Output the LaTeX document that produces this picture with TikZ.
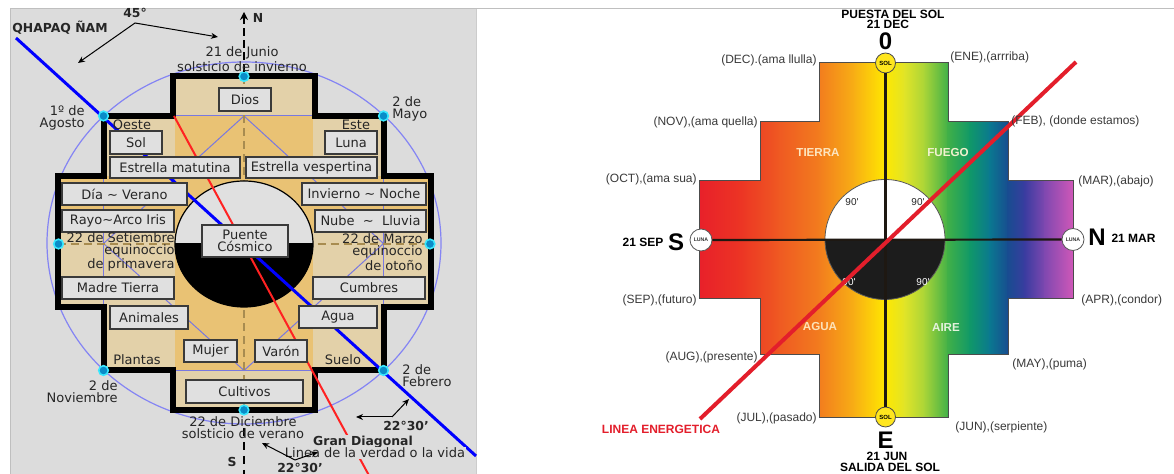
\documentclass[tikz,border=0pt]{standalone}
\usepackage{fontspec}
\setmainfont{DejaVu Sans}
\newfontfamily\arialf{Liberation Sans}
\usetikzlibrary{arrows.meta}
\definecolor{bgL}{HTML}{DCDCDC}
\definecolor{boxfill}{HTML}{E0E0E0}
\definecolor{boxline}{HTML}{3A3A3A}
\definecolor{tanL}{HTML}{E3D1A9}
\definecolor{tanD}{HTML}{E9C274}
\definecolor{purp}{HTML}{7878E0}
\definecolor{ringc}{HTML}{8484F4}
\definecolor{dashc}{HTML}{A88C50}
\definecolor{txt}{HTML}{262626}
\definecolor{redL}{HTML}{FF2222}
\definecolor{dotin}{HTML}{0A8CC8}
\definecolor{dotout}{HTML}{38E8FF}
\definecolor{monc}{HTML}{3A3A3A}
\definecolor{redR}{HTML}{E31E2B}
\definecolor{axisc}{HTML}{1E1812}
\definecolor{solc}{HTML}{FFE61E}
\definecolor{blk}{HTML}{1C1C1C}
\definecolor{g1}{HTML}{E8202A}
\definecolor{g2}{HTML}{EC3424}
\definecolor{g3}{HTML}{EF5A22}
\definecolor{g4}{HTML}{F27C1E}
\definecolor{g5}{HTML}{F8B014}
\definecolor{g6}{HTML}{FFE800}
\definecolor{g7}{HTML}{E0E428}
\definecolor{g8}{HTML}{A8D438}
\definecolor{g9}{HTML}{40B048}
\definecolor{g10}{HTML}{109868}
\definecolor{g11}{HTML}{0A7890}
\definecolor{g12}{HTML}{184C90}
\definecolor{g13}{HTML}{3A3CA0}
\definecolor{g14}{HTML}{8048B0}
\definecolor{g15}{HTML}{D058B8}
\definecolor{eT}{HTML}{FDE6C0}
\definecolor{eF}{HTML}{F2F2D0}
\definecolor{eA}{HTML}{FDE3B8}
\definecolor{eI}{HTML}{E4F2DC}
\begin{document}
\begin{tikzpicture}[x=0.5pt,y=-0.5pt,
  lbox/.style={draw=boxline, fill=boxfill, line width=0.7pt, inner sep=0pt, font=\fontsize{6.5}{6}\selectfont, text=txt, align=center},
  lab/.style={inner sep=0pt, font=\fontsize{6.5}{6}\selectfont, text=txt, align=center},
  blab/.style={inner sep=0pt, font=\bfseries\fontsize{6.2}{6}\selectfont, text=txt},
  cdot/.style={circle, fill=dotin, draw=dotout, line width=0.8pt, minimum size=4.8pt, inner sep=0pt},
  arr/.style={-{Stealth[length=3.5pt,width=3pt]}, line width=0.5pt, black},
  mon/.style={inner sep=0pt, font=\arialf\fontsize{6}{6}\selectfont, text=monc},
  rb/.style={inner sep=0pt, font=\arialf\bfseries\fontsize{6}{5.5}\selectfont, text=black},
  big/.style={inner sep=0pt, font=\arialf\bfseries\fontsize{12}{12}\selectfont, text=black},
  elem/.style={inner sep=0pt, font=\arialf\bfseries\fontsize{5.8}{6}\selectfont},
  ninety/.style={inner sep=0pt, font=\arialf\fontsize{5}{5}\selectfont},
  solnode/.style={circle, fill=solc, draw=gray!60!black, line width=0.4pt, minimum size=10pt, inner sep=0pt, font=\arialf\bfseries\fontsize{3}{3}\selectfont},
  lunanode/.style={circle, fill=white, draw=gray!70!black, line width=0.4pt, minimum size=11pt, inner sep=0pt, font=\arialf\bfseries\fontsize{2.6}{3}\selectfont, text=gray!40!black}
]
\useasboundingbox (0,0) rectangle (1174,474);
\clip (0,0) rectangle (1174,474);
\fill[white] (0,0) rectangle (1174,474);
% ---------------- LEFT PANEL ----------------
\fill[bgL] (10,9) rectangle (476,474);
\draw[gray!50, line width=0.5pt] (10,474) -- (10,9) -- (1174,9);
\draw[gray!40, line width=0.5pt] (476,9) -- (476,474);
% ring
\draw[ringc, line width=0.6pt] (244,243) ellipse [x radius=197, y radius=181];
% cross fill
\fill[tanL] (172.5,76.5) -- (315,76.5) -- (315,116) -- (383.5,116) -- (383.5,176.5) -- (431,176.5) -- (431,307.5) -- (383.5,307.5) -- (383.5,370.5) -- (315,370.5) -- (315,410) -- (172.5,410) -- (172.5,370.5) -- (103.5,370.5) -- (103.5,307.5) -- (57.5,307.5) -- (57.5,176.5) -- (103.5,176.5) -- (103.5,116) -- (172.5,116) -- cycle;
\fill[tanD] (175,116) rectangle (313,370.5);
\fill[tanD] (57.5,176.5) rectangle (431,232);
% purple geometry
\draw[purp, line width=0.5pt] (103.5,116) rectangle (383.5,370.5);
\draw[purp, line width=0.5pt] (244,116) -- (103.5,243.5) -- (244,370.5) -- (383.5,243.5) -- cycle;
% dashed axes
\draw[dashc, line width=1pt, dash pattern=on 4pt off 2.5pt] (244,76.5) -- (244,410);
\draw[dashc, line width=1pt, dash pattern=on 4pt off 2.5pt] (57.5,244) -- (431,244);
% puente ellipse
\begin{scope}
\clip (170,170) rectangle (320,244);
\fill[boxfill] (244,244) ellipse [x radius=69, y radius=63];
\end{scope}
\begin{scope}
\clip (170,244) rectangle (320,320);
\fill[black] (244,244) ellipse [x radius=69, y radius=63];
\end{scope}
\draw[black, line width=0.6pt] (244,244) ellipse [x radius=69, y radius=63];
% frame
\draw[black, line width=3pt, line join=miter] (172.5,76.5) -- (315,76.5) -- (315,116) -- (383.5,116) -- (383.5,176.5) -- (431,176.5) -- (431,307.5) -- (383.5,307.5) -- (383.5,370.5) -- (315,370.5) -- (315,410) -- (172.5,410) -- (172.5,370.5) -- (103.5,370.5) -- (103.5,307.5) -- (57.5,307.5) -- (57.5,176.5) -- (103.5,176.5) -- (103.5,116) -- (172.5,116) -- cycle;
% diagonals
\coordinate (bA) at (16,38);
\coordinate (bB) at (476,456);
\coordinate (rA) at (174,116);
\coordinate (rB) at (372,481);
\draw[redL, line width=1pt] (rA) -- (rB);
\draw[blue, line width=1.5pt] (bA) -- (bB);
% boxes
\node[lbox, minimum width=26pt, minimum height=11.5pt] (dios) at (245,99.5) {Dios};
\node[lbox, minimum width=26pt, minimum height=11.5pt] (sol) at (136,142.5) {Sol};
\node[lbox, minimum width=26pt, minimum height=11.5pt] (luna) at (351,142.5) {Luna};
\node[lbox, minimum width=65pt, minimum height=10.5pt] (estm) at (175,167.5) {Estrella matutina};
\node[lbox, minimum width=65.5pt, minimum height=10.5pt] (estv) at (311.5,167.5) {Estrella vespertina};
\node[lbox, minimum width=62.5pt, minimum height=11pt] (dia) at (124.5,194) {Día \textasciitilde\ Verano};
\node[lbox, minimum width=56pt, minimum height=11pt] (rayo) at (118,221) {Rayo\textasciitilde Arco Iris};
\node[lbox, minimum width=56pt, minimum height=11pt] (madre) at (118,288) {Madre Tierra};
\node[lbox, minimum width=62pt, minimum height=11pt] (invierno) at (364,194) {Invierno \textasciitilde\ Noche};
\node[lbox, minimum width=55.5pt, minimum height=11pt] (nube) at (370.5,221) {Nube\ \ \textasciitilde\ \ Lluvia};
\node[lbox, minimum width=56pt, minimum height=11pt] (cumbres) at (369,288) {Cumbres};
\node[lbox, minimum width=43pt, minimum height=16pt] (puente) at (245,241) {Puente\\Cósmico};
\node[lbox, minimum width=39pt, minimum height=11.5pt] (animales) at (149,317.5) {Animales};
\node[lbox, minimum width=39pt, minimum height=11pt] (agua) at (338,317) {Agua};
\node[lbox, minimum width=26.5pt, minimum height=11pt] (mujer) at (210.5,351) {Mujer};
\node[lbox, minimum width=26pt, minimum height=11pt] (varon) at (281,351) {Varón};
\node[lbox, minimum width=58.5pt, minimum height=11.5pt] (cultivos) at (244.5,391.5) {Cultivos};
% dots
\node[cdot] (d1) at (103.5,116) {};
\node[cdot] (d2) at (383.5,116) {};
\node[cdot] (d3) at (244,76.5) {};
\node[cdot] (d4) at (58.5,244) {};
\node[cdot] (d5) at (430,244) {};
\node[cdot] (d6) at (103.5,370.5) {};
\node[cdot] (d7) at (383.5,370.5) {};
\node[cdot] (d8) at (244,410) {};
% N / S axis
\draw[black, line width=0.8pt, dash pattern=on 4pt off 2pt] (244,72) -- (244,20);
\coordinate (nT0) at (244,22);
\coordinate (nT1) at (244,12);
\draw[-{Stealth[length=4pt,width=4pt]}, line width=0.8pt] (nT0) -- (nT1);
\draw[black, line width=0.8pt, dash pattern=on 4pt off 3pt] (244,428) -- (244,474);
\node[blab] (labN) at (258,18) {N};
\node[blab] (labS) at (232,462) {S};
% labels
\node[lab] (junio) at (242,59) {21 de Junio\\solsticio de invierno};
\node[lab] (dic) at (243,427.5) {22 de Diciembre\\solsticio de verano};
\node[lab, anchor=east, align=right] (agosto) at (85,118) {1º de\\Agosto};
\node[lab, anchor=west, align=left] (mayo) at (392,108.5) {2 de\\Mayo};
\node[lab, anchor=east, align=right] (nov) at (118,391.5) {2 de\\Noviembre};
\node[lab, anchor=west, align=left] (feb) at (402,376) {2 de\\Febrero};
\node[lab, anchor=east, align=right] (setiembre) at (175,252) {22 de Setiembre\\equinoccio\\de primavera};
\node[lab, anchor=east, align=right] (marzo) at (423,252) {22 de Marzo\\equinoccio\\de otoño};
\node[lab] (oeste) at (132,125) {Oeste};
\node[lab] (este) at (356,125) {Este};
\node[lab] (plantas) at (137,360) {Plantas};
\node[lab] (suelo) at (343,360) {Suelo};
\node[blab] (qhapaq) at (60,28) {QHAPAQ ÑAM};
\node[blab] (g45) at (135,13) {45°};
\node[blab] (g2230a) at (406,426) {22°30'};
\node[blab] (g2230b) at (300,468) {22°30'};
\node[blab, fill=bgL, inner sep=0.5pt] (gran) at (363,442) {Gran Diagonal};
\node[lab, fill=bgL, inner sep=0.5pt] (linea) at (375,453) {Linea de la verdad o la vida};
% angle arrows
\coordinate (a45) at (135,23);
\coordinate (a45l) at (78,63);
\coordinate (a45r) at (218,37);
\draw[arr] (a45) -- (a45l);
\draw[arr] (a45) -- (a45r);
\coordinate (v1) at (392,417);
\coordinate (v1l) at (356,417);
\coordinate (v1r) at (409,399);
\draw[arr] (v1) -- (v1l);
\draw[arr] (v1) -- (v1r);
\coordinate (v2) at (295,460);
\coordinate (v2l) at (262,443);
\coordinate (v2r) at (318,452);
\draw[arr] (v2) -- (v2l);
\draw[arr] (v2) -- (v2r);
% ---------------- RIGHT PANEL ----------------
\begin{scope}
\clip (819,63) -- (948,63) -- (948,122) -- (1008,122) -- (1008,181) -- (1073,181) -- (1073,299) -- (1008,299) -- (1008,355) -- (948,355) -- (948,418) -- (819,418) -- (819,355) -- (760,355) -- (760,299) -- (699,299) -- (699,181) -- (760,181) -- (760,122) -- (819,122) -- cycle;
\foreach \xa/\xb/\ca/\cb in {699/740/g1/g2, 740/780/g2/g3, 780/819/g3/g4, 819/855/g4/g5, 855/885/g5/g6, 885/905/g6/g7, 905/925/g7/g8, 925/948/g8/g9, 948/970/g9/g10, 970/990/g10/g11, 990/1008/g11/g12, 1008/1025/g12/g13, 1025/1045/g13/g14, 1045/1073/g14/g15}{
  \shade[left color=\ca, right color=\cb] (\xa-0.6,55) rectangle (\xb+0.6,425);
}
\end{scope}
\draw[gray!60!black, line width=0.5pt] (819,63) -- (948,63) -- (948,122) -- (1008,122) -- (1008,181) -- (1073,181) -- (1073,299) -- (1008,299) -- (1008,355) -- (948,355) -- (948,418) -- (819,418) -- (819,355) -- (760,355) -- (760,299) -- (699,299) -- (699,181) -- (760,181) -- (760,122) -- (819,122) -- cycle;
% central disc
\begin{scope}
\clip (820,170) rectangle (950,239.5);
\fill[white] (885,239.5) circle (60);
\end{scope}
\begin{scope}
\clip (820,239.5) rectangle (950,310);
\fill[blk] (885,239.5) circle (60);
\end{scope}
\draw[gray!70!black, line width=0.4pt] (885,239.5) circle (60);
\node[ninety, text=txt] (n1) at (852,202) {90'};
\node[ninety, text=txt] (n2) at (918,202) {90'};
\node[ninety, text=white] (n3) at (849,282) {90'};
\node[ninety, text=white] (n4) at (923,282) {90'};
% sol / luna markers
\node[solnode] (solT) at (885.5,63) {SOL};
\node[solnode] (solB) at (885.5,417) {SOL};
\node[lunanode] (lunaL) at (701,240) {LUNA};
\node[lunanode] (lunaR) at (1073,239.5) {LUNA};
\draw[axisc, line width=1.3pt] (solT) -- (solB);
\draw[axisc, line width=1.1pt] (lunaL) -- (lunaR);
% energetic line
\coordinate (rr1) at (700,419);
\coordinate (rr2) at (1076,62);
\draw[redR, line width=2pt] (rr1) -- (rr2);
% elements
\node[elem, text=eT] (tierra) at (818,153) {TIERRA};
\node[elem, text=eF] (fuego) at (948,153) {FUEGO};
\node[elem, text=eA] (aguaR) at (820,327) {AGUA};
\node[elem, text=eI] (aire) at (946,328) {AIRE};
% months
\node[mon, anchor=east] (mDEC) at (817,60) {(DEC).(ama llulla)};
\node[mon, anchor=west] (mENE) at (950,57) {(ENE),(arrriba)};
\node[mon, anchor=east] (mNOV) at (758,122) {(NOV),(ama quella)};
\node[mon, anchor=west] (mFEB) at (1011,121) {(FEB), (donde estamos)};
\node[mon, anchor=east] (mOCT) at (697,179) {(OCT),(ama sua)};
\node[mon, anchor=west] (mMAR) at (1078,181) {(MAR),(abajo)};
\node[mon, anchor=east] (mSEP) at (697,300) {(SEP),(futuro)};
\node[mon, anchor=west] (mAPR) at (1081,300) {(APR),(condor)};
\node[mon, anchor=east] (mAUG) at (758,357) {(AUG),(presente)};
\node[mon, anchor=west] (mMAY) at (1012,364) {(MAY),(puma)};
\node[mon, anchor=east] (mJUL) at (817,418) {(JUL),(pasado)};
\node[mon, anchor=west] (mJUN) at (955,427) {(JUN),(serpiente)};
% cardinal labels
\node[rb] (puesta) at (893,14) {PUESTA DEL SOL};
\node[rb] (dec21) at (888,24) {21 DEC};
\node[big] (zero) at (885.5,41.5) {0};
\node[big] (eE) at (885.5,440) {E};
\node[rb] (jun21) at (887,456) {21 JUN};
\node[rb] (salida) at (890,467) {SALIDA DEL SOL};
\node[big] (sS) at (676,242.5) {S};
\node[rb] (sep21) at (643,242) {21 SEP};
\node[big] (nN) at (1097,237) {N};
\node[rb] (mar21) at (1133.5,238) {21 MAR};
\node[rb, text=redR] (energ) at (661,429) {LINEA ENERGETICA};
\end{tikzpicture}
\end{document}
